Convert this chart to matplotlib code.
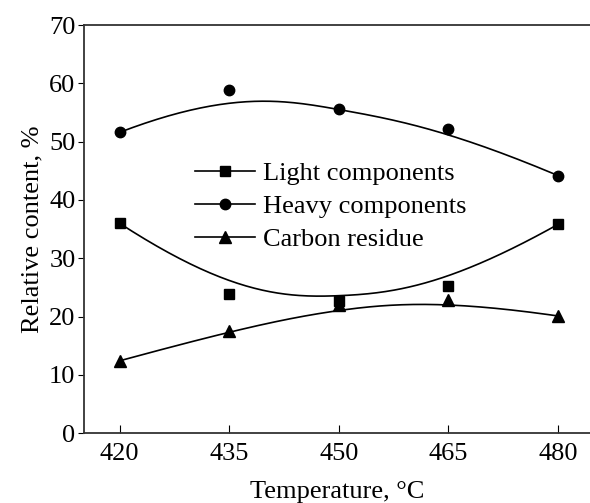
import numpy as np
import matplotlib.pyplot as plt

plt.rcParams['font.family'] = ['Liberation Serif', 'DejaVu Serif']

temps = [420, 435, 450, 465, 480]
light = [36.0, 23.8, 22.6, 25.3, 35.8]
heavy = [51.6, 58.8, 55.6, 52.1, 44.2]
carbon = [12.4, 17.5, 21.9, 22.8, 20.1]


def bspline(px, py, n=200, k=3):
    # clamped cubic B-spline using the data points as control points
    m = len(px)
    inner = np.linspace(0, 1, m - k + 1)[1:-1]
    t = np.concatenate([np.zeros(k + 1), inner, np.ones(k + 1)])
    u = np.linspace(0, 1, n)
    u[-1] -= 1e-9

    def basis(i, d, u):
        if d == 0:
            return ((t[i] <= u) & (u < t[i + 1])).astype(float)
        a = 0.0 if t[i + d] == t[i] else (u - t[i]) / (t[i + d] - t[i]) * basis(i, d - 1, u)
        b = 0.0 if t[i + d + 1] == t[i + 1] else (t[i + d + 1] - u) / (t[i + d + 1] - t[i + 1]) * basis(i + 1, d - 1, u)
        return a + b

    N = np.array([basis(i, k, u) for i in range(m)])
    return N.T @ np.asarray(px, float), N.T @ np.asarray(py, float)


fig = plt.figure(figsize=(5.9, 5.03), dpi=100)
ax = fig.add_axes([0.142, 0.139, 0.858, 0.811])

series = [(light, 's', 'Light components', 6.5),
          (heavy, 'o', 'Heavy components', 7.5),
          (carbon, '^', 'Carbon residue', 8)]
for ys, mk, lab, ms in series:
    cx, cy = bspline(temps, ys)
    ax.plot(cx, cy, color='black', lw=1.2)
    ax.plot(temps, ys, mk, color='black', ms=ms, ls='none')
    ax.plot([], [], color='black', lw=1.2, marker=mk, ms=ms, label=lab)

ax.set_xlim(415.1, 484.4)
ax.set_ylim(0, 70)
ax.set_xticks(temps)
ax.set_yticks(range(0, 71, 10))
ax.tick_params(axis='x', direction='in', length=6, labelsize=19, pad=7)
ax.tick_params(axis='y', direction='out', length=4, labelsize=19, pad=2)
ax.spines['right'].set_visible(False)
for s in ['left', 'bottom', 'top']:
    ax.spines[s].set_linewidth(1.3)
    ax.spines[s].set_color('#333333')

ax.set_xlabel('Temperature, °C', fontsize=19, labelpad=12)
ax.set_ylabel('Relative content, %', fontsize=19, labelpad=4)

ax.legend(loc='upper left', bbox_to_anchor=(0.219, 0.665), frameon=False,
          borderpad=0, borderaxespad=0, fontsize=19, handlelength=2.3,
          labelspacing=0.36, handletextpad=0.3)

fig.savefig('out.png')
